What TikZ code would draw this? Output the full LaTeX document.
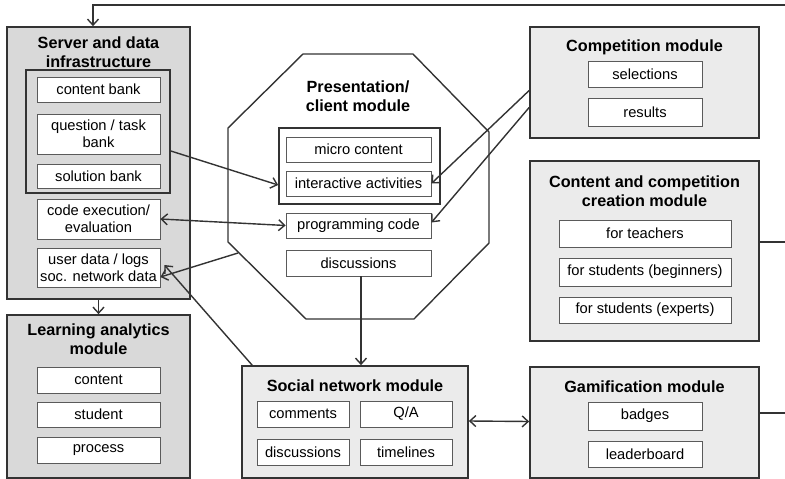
\documentclass[tikz,border=0pt]{standalone}
\usepackage{fontspec}
\setmainfont{Liberation Sans}
\usetikzlibrary{arrows.meta,calc}
\definecolor{darkfill}{HTML}{D9D9D9}
\definecolor{lightfill}{HTML}{EBEBEB}
\definecolor{edge}{HTML}{333333}
\definecolor{itemedge}{HTML}{5A5A5A}
\tikzset{
  module/.style={draw=edge, line width=1.7pt, inner sep=0pt},
  group/.style={draw=edge, line width=1.7pt, inner sep=0pt},
  item/.style={draw=itemedge, fill=white, line width=0.8pt, inner sep=0pt,
    align=center, font=\fontsize{14.7}{17}\selectfont},
  title/.style={align=center, font=\bfseries\fontsize{16.2}{18.5}\selectfont, inner sep=0pt},
  conn/.style={draw=edge, line width=1.4pt},
  barb/.tip={Straight Barb[length=6pt,width=11pt,line width=1.4pt]},
  tip/.style={-barb},
  bitip/.style={barb-barb},
}
\begin{document}
\begin{tikzpicture}[x=1pt,y=-1pt]
\useasboundingbox (0,0) rectangle (785,479);

% ---------- Server and data infrastructure ----------
\node[module, fill=darkfill, minimum width=183, minimum height=272] (srv) at (98.5,163) {};
\node[title] (srvT) at (98.5,52) {Server and data\\infrastructure};
\node[group, minimum width=144, minimum height=123] (bank) at (98,131.5) {};
\node[item, minimum width=123, minimum height=25] (cb) at (98.5,89.5) {content bank};
\node[item, minimum width=123, minimum height=40] (qb) at (98.5,134) {question / task\\bank};
\node[item, minimum width=123, minimum height=24] (sb) at (98.5,176) {solution bank};
\node[item, minimum width=123, minimum height=40] (ce) at (98.5,219) {code execution/\\evaluation};
\node[item, minimum width=123, minimum height=39] (ud) at (98.5,267.5) {user data / logs\\soc. network data};

% ---------- Learning analytics ----------
\node[module, fill=darkfill, minimum width=183, minimum height=163] (la) at (98.5,396.5) {};
\node[title] (laT) at (98.5,339) {Learning analytics\\module};
\node[item, minimum width=123, minimum height=26] (lac) at (98.5,380) {content};
\node[item, minimum width=123, minimum height=25] (las) at (98.5,414.5) {student};
\node[item, minimum width=123, minimum height=26] (lap) at (98.5,450) {process};

% ---------- Presentation / client ----------
\draw[draw=edge, line width=1.4pt]
  (303,54) -- (413,54) -- (489,132) -- (489,243) -- (414,319) -- (306,319)
  -- (228,242) -- (228,128) -- cycle;
\coordinate (octL) at (238,253);
\node[title] (pcT) at (358,96) {Presentation/\\client module};
\node[group, minimum width=161, minimum height=76] (pgrp) at (359.5,166) {};
\node[item, minimum width=145, minimum height=25] (mc) at (358.5,149.5) {micro content};
\node[item, minimum width=145, minimum height=25] (ia) at (358.5,183.5) {interactive activities};
\node[item, minimum width=145, minimum height=25] (pc) at (358.5,225.5) {programming code};
\node[item, minimum width=145, minimum height=26] (dc) at (358.5,263) {discussions};

% ---------- Competition ----------
\node[module, fill=lightfill, minimum width=229, minimum height=111] (cm) at (644.5,82.5) {};
\node[title] (cmT) at (644.5,47) {Competition module};
\node[item, minimum width=114, minimum height=26] (sel) at (645,74) {selections};
\node[item, minimum width=114, minimum height=28] (res) at (645,112) {results};

% ---------- Content and competition creation ----------
\node[module, fill=lightfill, minimum width=229, minimum height=180] (cc) at (644.5,251) {};
\node[title] (ccT) at (644.5,191) {Content and competition\\creation module};
\node[item, minimum width=172, minimum height=27] (ft) at (645,233.5) {for teachers};
\node[item, minimum width=172, minimum height=28] (fb) at (645,272) {for students (beginners)};
\node[item, minimum width=172, minimum height=26] (fe) at (645,310) {for students (experts)};

% ---------- Social network ----------
\node[module, fill=lightfill, minimum width=226, minimum height=112] (sn) at (355,422) {};
\node[title] (snT) at (355,386) {Social network module};
\node[item, minimum width=92, minimum height=26] (sc) at (303,414) {comments};
\node[item, minimum width=92, minimum height=26] (sq) at (406,414) {Q/A};
\node[item, minimum width=92, minimum height=26] (sd) at (303,452) {discussions};
\node[item, minimum width=92, minimum height=26] (st) at (406,452) {timelines};

% ---------- Gamification ----------
\node[module, fill=lightfill, minimum width=229, minimum height=111] (gm) at (644.5,422.5) {};
\node[title] (gmT) at (644.5,387) {Gamification module};
\node[item, minimum width=114, minimum height=28] (bd) at (645,416) {badges};
\node[item, minimum width=114, minimum height=26] (lb) at (645,454) {leaderboard};

% ---------- Connectors ----------
\coordinate (topR) at (785,5);
\coordinate (ccR) at (785,242);
\coordinate (gmR) at (785,413);
\coordinate (snc) at ([xshift=11pt]sn.north west);
\draw[conn, tip] (topR) -| ([xshift=-5.5pt]srv.north);
\draw[conn] (cc.east |- ccR) -- (ccR);
\draw[conn] (gm.east |- gmR) -- (gmR);
\draw[conn, tip] (srv.south) -- (la.north);
\draw[conn, tip] ([yshift=-19.5pt]bank.east) -- ([yshift=-19pt]pgrp.west);
\draw[conn, bitip] (ce.east) -- (pc.west);
\draw[conn, tip] (octL) -- ([yshift=-9.5pt]ud.east);
\draw[conn, tip] (snc) -- ([xshift=4pt,yshift=2.5pt]ud.east);
\draw[conn, tip] (dc.south -| 361,0) -- (sn.north -| 361,0);
\draw[conn, tip] ([yshift=-8pt]cm.west) -- (ia.east);
\draw[conn, tip] ([yshift=-25pt]cm.west) -- ([yshift=3pt]pc.east);
\draw[conn, bitip] ([yshift=1pt]sn.east) -- ([yshift=1pt]gm.west);
\end{tikzpicture}
\end{document}
